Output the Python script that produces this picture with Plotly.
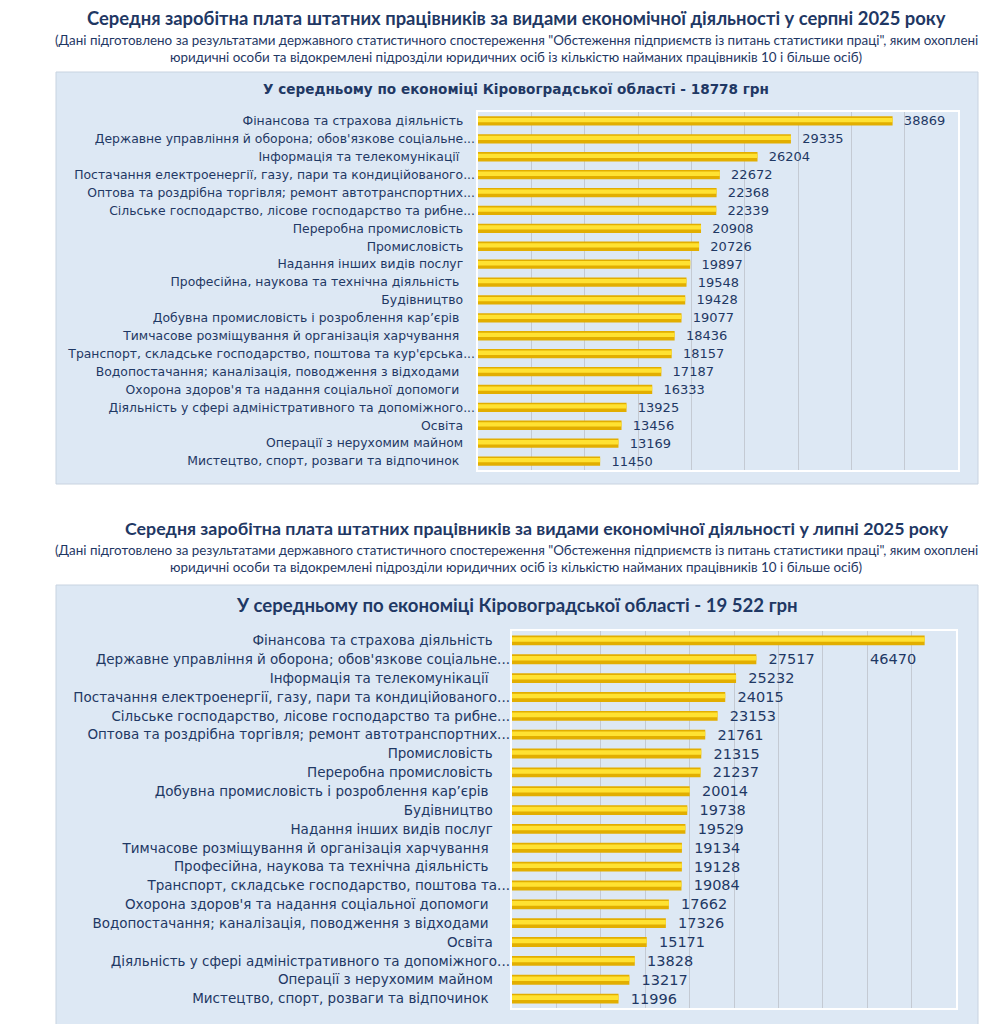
import plotly.graph_objects as go

# page body adds an 8px margin; map reference pixels accordingly
OFF = 8
W, H = 1007 - OFF, 1024 - OFF

# ---------------- data ----------------
aug_categories = [
    "Фінансова та страхова діяльність",
    "Державне управління й оборона; обов'язкове соціальне...",
    "Інформація та телекомунікації ",
    "Постачання електроенергії, газу, пари та кондиційованого...",
    "Оптова та роздрібна торгівля; ремонт автотранспортних...",
    "Сільське господарство, лісове господарство та рибне...",
    "Переробна промисловість",
    "Промисловість",
    "Надання інших видів послуг",
    "Професійна, наукова та технічна діяльність ",
    "Будівництво",
    "Добувна промисловість і розроблення кар’єрів ",
    "Тимчасове розміщування й організація харчування ",
    "Транспорт, складське господарство, поштова та кур'єрська...",
    "Водопостачання; каналізація, поводження з відходами ",
    "Охорона здоров'я та надання соціальної допомоги ",
    "Діяльність у сфері адміністративного та допоміжного...",
    "Освіта",
    "Операції з нерухомим майном",
    "Мистецтво, спорт, розваги та відпочинок ",
]
aug_values = [38869, 29335, 26204, 22672, 22368, 22339, 20908, 20726, 19897, 19548,
              19428, 19077, 18436, 18157, 17187, 16333, 13925, 13456, 13169, 11450]

jul_categories = [
    "Фінансова та страхова діяльність",
    "Державне управління й оборона; обов'язкове соціальне...",
    "Інформація та телекомунікації ",
    "Постачання електроенергії, газу, пари та кондиційованого...",
    "Сільське господарство, лісове господарство та рибне...",
    "Оптова та роздрібна торгівля; ремонт автотранспортних...",
    "Промисловість",
    "Переробна промисловість",
    "Добувна промисловість і розроблення кар’єрів ",
    "Будівництво",
    "Надання інших видів послуг",
    "Тимчасове розміщування й організація харчування ",
    "Професійна, наукова та технічна діяльність ",
    "Транспорт, складське господарство, поштова та...",
    "Охорона здоров'я та надання соціальної допомоги ",
    "Водопостачання; каналізація, поводження з відходами ",
    "Освіта",
    "Діяльність у сфері адміністративного та допоміжного...",
    "Операції з нерухомим майном",
    "Мистецтво, спорт, розваги та відпочинок ",
]
jul_values = [46470, 27517, 25232, 24015, 23153, 21761, 21315, 21237, 20014, 19738,
              19529, 19134, 19128, 19084, 17662, 17326, 15171, 13828, 13217, 11996]

title_aug = "Середня заробітна плата штатних працівників за видами економічної діяльності у серпні 2025 року"
title_jul = "Середня заробітна плата штатних працівників за видами економічної діяльності у липні 2025 року"
sub_line1 = ("(Дані підготовлено за результатами державного статистичного спостереження "
             "\"Обстеження підприємств із питань статистики праці\", яким охоплені")
sub_line2 = "юридичні особи та відокремлені підрозділи юридичних осіб із кількістю найманих працівників 10 і більше осіб)"
header_aug = "У середньому по економіці Кіровоградської області - 18778 грн"
header_jul = "У середньому по економіці Кіровоградської області - 19 522 грн"

# ---------------- style ----------------
NAVY = "#1F3864"
PANEL = "#DDE8F4"
GOLD_DARK = "#E2AE00"
GOLD_LIGHT = "#FFE232"
TITLE_FONT = "Lato, 'Open Sans', sans-serif"
LABEL_FONT = "'DejaVu Sans', Verdana, sans-serif"


def px(p):
    return (p - OFF) / W


def py(p):
    return 1 - (p - OFF) / H


def pad_labels(cats, n):
    out = []
    for c in cats:
        if c.endswith("..."):
            out.append(c)
        else:
            t = c.replace(" ", "\u00a0") if c.endswith(" ") else c
            out.append(t + "\u00a0" * n)
    return out


fig = go.Figure()


def add_bars(values, cats, xa, ya, fsize, texts):
    fig.add_trace(go.Bar(
        x=values, y=cats, orientation="h",
        width=0.52, marker=dict(color=GOLD_DARK, line=dict(width=0)),
        text=texts, texttemplate="\u00a0\u00a0%{text}",
        textposition="outside", cliponaxis=False, constraintext="none",
        textfont=dict(family=LABEL_FONT, size=fsize, color=NAVY),
        xaxis=xa, yaxis=ya, showlegend=False, hoverinfo="skip"))
    fig.add_trace(go.Bar(
        x=values, y=cats, orientation="h",
        width=0.24, offset=-0.17, marker=dict(color=GOLD_LIGHT, line=dict(width=0)),
        textposition="none",
        xaxis=xa, yaxis=ya, showlegend=False, hoverinfo="skip"))


add_bars(aug_values, aug_categories, "x", "y", 13, [str(v) for v in aug_values])
jul_text = [str(v) for v in jul_values]
jul_text[0] = ""  # first label drawn displaced, as in the source
add_bars(jul_values, jul_categories, "x2", "y2", 14.5, jul_text)

# ---------------- layout ----------------
axis_common = dict(showline=False, zeroline=False, ticks="", fixedrange=True)
fig.update_layout(
    width=W, height=H, margin=dict(l=0, r=0, t=0, b=0),
    paper_bgcolor="white", plot_bgcolor=PANEL,
    barmode="overlay",
    xaxis=dict(domain=[px(478), px(958)], anchor="y", range=[0, 45000], dtick=5000,
               showticklabels=False, showgrid=True, gridcolor="#C4CAD3", gridwidth=1,
               **axis_common),
    yaxis=dict(domain=[py(470), py(112)], anchor="x", autorange="reversed",
               type="category", showgrid=False, ticklabelstandoff=2,
               tickmode="array", tickvals=aug_categories,
               ticktext=pad_labels(aug_categories, 3),
               tickfont=dict(family=LABEL_FONT, size=12.4, color=NAVY),
               **axis_common),
    xaxis2=dict(domain=[px(512), px(956)], anchor="y2", range=[0, 50000], dtick=5000,
                showticklabels=False, showgrid=True, gridcolor="#C4CAD3", gridwidth=1,
                **axis_common),
    yaxis2=dict(domain=[py(1008), py(631)], anchor="x2", autorange="reversed",
                type="category", showgrid=False, ticklabelstandoff=1,
                tickmode="array", tickvals=jul_categories,
                ticktext=pad_labels(jul_categories, 4),
                tickfont=dict(family=LABEL_FONT, size=13.5, color=NAVY),
                **axis_common),
)

shapes = []
for (x0, y0, x1, y1) in [(56, 72, 978, 484), (56, 585, 978, 1040)]:
    shapes.append(dict(type="rect", xref="paper", yref="paper", layer="below",
                       x0=px(x0), x1=px(x1), y0=py(y1), y1=py(y0),
                       fillcolor=PANEL, line=dict(color="#C8D3E0", width=1)))
for (x0, y0, x1, y1) in [(477, 111, 959, 471), (511, 630, 957, 1009)]:
    shapes.append(dict(type="rect", xref="paper", yref="paper", layer="above",
                       x0=px(x0), x1=px(x1), y0=py(y1), y1=py(y0),
                       fillcolor="rgba(0,0,0,0)", line=dict(color="white", width=2)))
fig.update_layout(shapes=shapes)

ann = []


def text_ann(txt, xc, yc, size, bold=False, family=TITLE_FONT):
    ann.append(dict(text=("<b>%s</b>" % txt) if bold else txt,
                    x=px(xc), y=py(yc), xref="paper", yref="paper",
                    xanchor="center", yanchor="middle", showarrow=False,
                    font=dict(family=family, size=size, color=NAVY)))


text_ann(title_aug, 516, 18, 18.4, bold=True)
text_ann(sub_line1, 516, 40, 13.4)
text_ann(sub_line2, 516, 57, 13.4)
text_ann(header_aug, 516, 89, 13.6, bold=True, family=LABEL_FONT)

text_ann(title_jul, 537, 528, 17.8, bold=True)
text_ann(sub_line1, 516, 550, 13.4)
text_ann(sub_line2, 516, 567, 13.4)
text_ann(header_jul, 517, 605, 18.6, bold=True)

# displaced value label of the first July bar (sits on the second row in the source)
ann.append(dict(text=str(jul_values[0]), x=jul_values[0] - 3600, y=jul_categories[1],
                xref="x2", yref="y2", xanchor="center", yanchor="middle", showarrow=False,
                font=dict(family=LABEL_FONT, size=14.5, color=NAVY)))

fig.update_layout(annotations=ann)

fig.write_html("out.html")
